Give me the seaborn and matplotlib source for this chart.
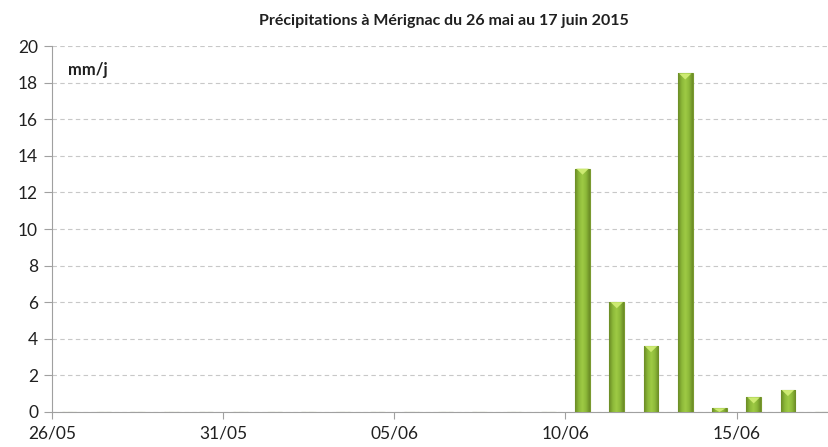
import numpy as np
import pandas as pd
import matplotlib
matplotlib.use("Agg")
import matplotlib.pyplot as plt
import seaborn as sns
from matplotlib.colors import LinearSegmentedColormap
from matplotlib.patches import Polygon

# ---- data ----
dates = ["26/05", "27/05", "28/05", "29/05", "30/05", "31/05", "01/06", "02/06",
         "03/06", "04/06", "05/06", "06/06", "07/06", "08/06", "09/06", "10/06",
         "11/06", "12/06", "13/06", "14/06", "15/06", "16/06", "17/06"]
precip = [0, 0, 0, 0, 0, 0, 0, 0, 0, 0, 0, 0, 0, 0, 0,
          13.3, 6.0, 3.6, 18.5, 0.2, 0.8, 1.2, 0]
tick_labels = ["26/05", "31/05", "05/06", "10/06", "15/06"]
title = "Précipitations à Mérignac du 26 mai au 17 juin 2015"
unit = "mm/j"

df = pd.DataFrame({"date": dates, "mm": precip})

sns.set_theme(style="white")
plt.rcParams["font.family"] = ["Lato", "DejaVu Sans"]

fig = plt.figure(figsize=(8.29, 4.47), dpi=100)
ax = fig.add_axes([0.0627, 0.0783, 0.9373, 0.8187])

sns.barplot(data=df, x="date", y="mm", order=dates, color="#8db83a",
            width=0.43, ax=ax, zorder=3, edgecolor="#7a9a30", linewidth=0.8)

# gradient fill + bevel top on each bar
cmap = LinearSegmentedColormap.from_list(
    "g", ["#6a8a25", "#8cb839", "#9fcb45", "#8cb839", "#6a8a25"])
grad = np.linspace(0, 1, 64).reshape(1, -1)
for p in ax.patches:
    h = p.get_height()
    if h <= 0:
        continue
    x0, w = p.get_x(), p.get_width()
    im = ax.imshow(grad, cmap=cmap, aspect="auto", extent=(x0, x0 + w, 0, h),
                   zorder=3.5, interpolation="bicubic")
    im.set_clip_path(p)
    th = min(0.33, h)
    tri = Polygon([(x0 + w * 0.08, h), (x0 + w * 0.92, h), (x0 + w / 2, h - th)],
                  closed=True, facecolor="#cdea72", edgecolor="none", zorder=4)
    ax.add_patch(tri)

ax.set_xlim(-0.5, 22.2)
ax.set_ylim(0, 20)
ax.set_yticks(np.arange(0, 21, 2))
ax.set_xticks([dates.index(t) - 0.5 for t in tick_labels])
ax.set_xticklabels(tick_labels)
ax.set_xlabel("")
ax.set_ylabel("")

ax.yaxis.grid(True, linestyle=(0, (4, 3)), color="#c8c8c8", linewidth=0.8, zorder=0)
ax.xaxis.grid(False)
for s in ["top", "right"]:
    ax.spines[s].set_visible(False)
for s in ["left", "bottom"]:
    ax.spines[s].set_color("#a0a0a0")
    ax.spines[s].set_linewidth(0.8)

ax.tick_params(axis="y", which="both", left=True, length=6, width=0.8,
               color="#a0a0a0", labelsize=12.5, labelcolor="#202020", pad=4)
ax.tick_params(axis="x", which="both", bottom=True, length=5, width=0.8,
               color="#a0a0a0", labelsize=12.5, labelcolor="#202020", pad=5)

ax.text(0.02, 0.935, unit, transform=ax.transAxes, fontsize=12,
        fontweight="bold", color="#202020", va="center", ha="left")
fig.text(0.535, 0.952, title, fontsize=11.5, fontweight="bold", color="#202020",
         ha="center", va="center")

fig.savefig("out.png", dpi=100)
